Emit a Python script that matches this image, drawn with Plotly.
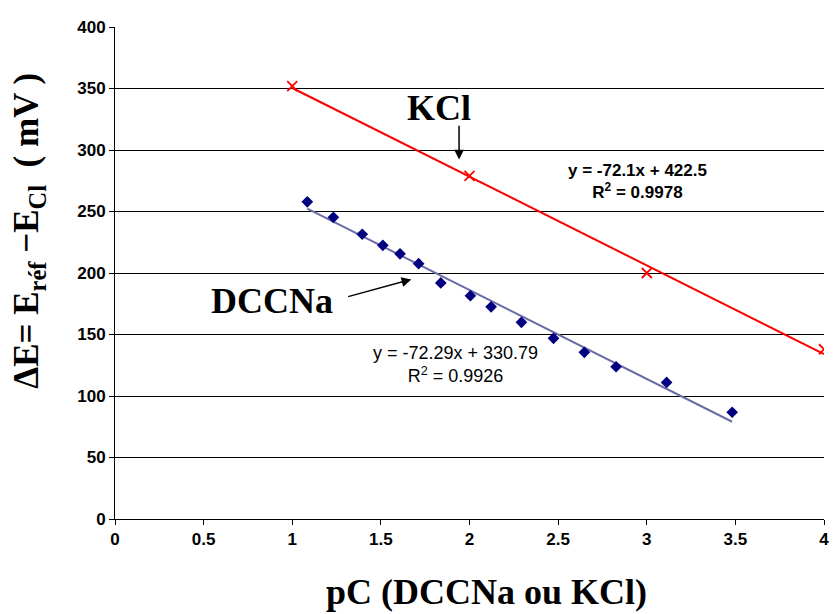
import plotly.graph_objects as go
import numpy as np

# ---- data ----
dcc_x = [1.085, 1.232, 1.395, 1.511, 1.608, 1.713, 1.838, 2.005, 2.122, 2.293, 2.474, 2.648, 2.827, 3.112, 3.482]
dcc_y = [257.9, 245.3, 231.5, 222.5, 215.6, 207.6, 191.9, 181.5, 172.5, 159.9, 146.9, 135.5, 123.8, 111.0, 86.8]
kcl_x = [1, 2, 3, 4]
kcl_y = [352, 279, 200, 138]
dcc_fit = [-72.29, 330.79]   # slope, intercept (from chart label)
kcl_fit = [-72.1, 422.5]
x_ticks = [0, 0.5, 1, 1.5, 2, 2.5, 3, 3.5, 4]
y_ticks = [0, 50, 100, 150, 200, 250, 300, 350, 400]

fig = go.Figure()

# trend lines
dx = np.array([min(dcc_x), max(dcc_x)])
fig.add_trace(go.Scatter(x=dx, y=dcc_fit[0] * dx + dcc_fit[1], mode="lines",
                         line=dict(color="#6C6CA8", width=2), showlegend=False, hoverinfo="skip"))
kx = np.array([min(kcl_x), max(kcl_x)])
fig.add_trace(go.Scatter(x=kx, y=kcl_fit[0] * kx + kcl_fit[1], mode="lines",
                         line=dict(color="#FF0000", width=2), showlegend=False, hoverinfo="skip"))

# points
fig.add_trace(go.Scatter(x=dcc_x, y=dcc_y, mode="markers",
                         marker=dict(symbol="diamond", size=9, color="#000080"),
                         showlegend=False))
fig.add_trace(go.Scatter(x=kcl_x, y=kcl_y, mode="markers",
                         marker=dict(symbol="x-thin-open", size=10, color="#FF0000",
                                     line=dict(color="#FF0000", width=1.8)),
                         showlegend=False))

serif = "Liberation Serif, Times New Roman, serif"
sans = "Liberation Sans, Arial, sans-serif"

# page body has an 8px margin; plot area spans page x 115..828, y 18..519
fig.update_layout(
    width=831, height=606,
    margin=dict(l=107, r=11, t=10, b=95),
    paper_bgcolor="white", plot_bgcolor="white",
    xaxis=dict(range=[0, 4], tickvals=x_ticks, ticktext=[str(t) for t in x_ticks],
               showgrid=False, zeroline=False, showline=True, linecolor="black", linewidth=1,
               ticks="outside", ticklen=5, tickcolor="black",
               tickfont=dict(family=sans, size=17, color="black", weight="bold")),
    yaxis=dict(range=[0, 400], tickvals=y_ticks, ticktext=[str(t) for t in y_ticks],
               showgrid=True, gridcolor="black", gridwidth=1, zeroline=False,
               showline=True, linecolor="black", linewidth=1,
               ticks="outside", ticklen=5, tickcolor="black",
               tickfont=dict(family=sans, size=17, color="black", weight="bold")),
)

def px(xp):
    return (xp - 115) / 713

def py(yp):
    return (519 - yp) / 501

def dxp(xp):
    return (xp - 115) / 178.25

def dyp(yp):
    return (519 - yp) / 1.2525

anns = []
# Axis titles
anns.append(dict(xref="paper", yref="paper", x=px(489), y=py(593),
                 text="<b>pC (DCCNa ou KCl)</b>", showarrow=False,
                 font=dict(family=serif, size=36, color="black"),
                 xanchor="center", yanchor="middle"))
anns.append(dict(xref="paper", yref="paper", x=px(28), y=py(225),
                 text="<b>ΔE= E<sub>réf</sub> −E<sub>Cl</sub>  ( mV )</b>", showarrow=False,
                 textangle=-90, font=dict(family=serif, size=35, color="black"),
                 xanchor="center", yanchor="middle"))
# Series labels
anns.append(dict(x=dxp(441), y=dyp(100), text="<b>KCl</b>",
                 showarrow=False, font=dict(family=serif, size=36, color="black"),
                 xanchor="center", yanchor="middle"))
anns.append(dict(x=dxp(273), y=dyp(297), text="<b>DCCNa</b>",
                 showarrow=False, font=dict(family=serif, size=36, color="black"),
                 xanchor="center", yanchor="middle"))
# arrows
anns.append(dict(x=dxp(461), y=dyp(153), ax=dxp(461), ay=dyp(117), axref="x", ayref="y",
                 text="", showarrow=True, arrowhead=2, arrowsize=1.3, arrowwidth=1.5,
                 arrowcolor="black"))
anns.append(dict(x=dxp(413), y=dyp(275), ax=dxp(348), ay=dyp(293), axref="x", ayref="y",
                 text="", showarrow=True, arrowhead=2, arrowsize=1.3, arrowwidth=1.5,
                 arrowcolor="black"))
# equations
anns.append(dict(x=dxp(640), y=dyp(175),
                 text="<b>y = -72.1x + 422.5<br>R<sup>2</sup> = 0.9978</b>", showarrow=False,
                 font=dict(family=sans, size=17, color="black"), align="center",
                 xanchor="center", yanchor="middle", bgcolor="white"))
anns.append(dict(x=dxp(457), y=dyp(362),
                 text="y = -72.29x + 330.79<br>R<sup>2</sup> = 0.9926", showarrow=False,
                 font=dict(family=sans, size=18, color="black"), align="center",
                 xanchor="center", yanchor="middle", bgcolor="white"))
fig.update_layout(annotations=anns)

fig.write_html("out.html")
